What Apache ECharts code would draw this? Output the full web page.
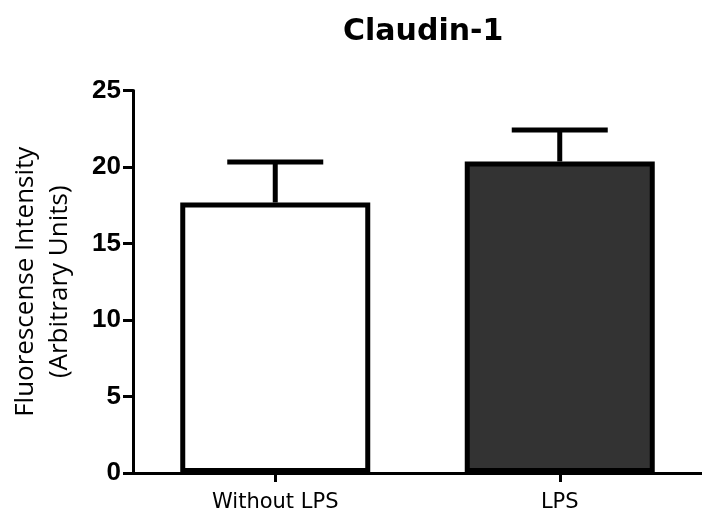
<!DOCTYPE html>
<html>
<head>
<meta charset="utf-8">
<script src="https://cdn.jsdelivr.net/npm/echarts@6/dist/echarts.min.js"></script>
<style>
html,body{margin:0;padding:0;background:#fff;}
#chart{width:702px;height:517px;}
</style>
</head>
<body>
<div id="chart"></div>
<script>
const categories = ['Without LPS', 'LPS'];
const means = [17.68, 20.36];
const upperError = [20.33, 22.42];
const barColors = ['#ffffff', '#333333'];
const yMin = 0, yMax = 25, yStep = 5;

const chart = echarts.init(document.getElementById('chart'), null, {renderer: 'canvas'});

const errData = categories.map((c, i) => [i, means[i], upperError[i]]);

chart.setOption({
  backgroundColor: '#ffffff',
  animation: false,
  title: {
    text: 'Claudin-1',
    left: 338,
    top: 12,
    textStyle: {fontFamily: 'DejaVu Sans', fontWeight: 'bold', fontSize: 30, color: '#000'}
  },
  grid: {left: 133, width: 576, top: 90.5, bottom: 44, containLabel: false},
  xAxis: {
    type: 'category',
    data: categories,
    boundaryGap: true,
    axisLine: {lineStyle: {color: '#000', width: 3}},
    axisTick: {show: true, alignWithLabel: true, length: 9, lineStyle: {color: '#000', width: 3}},
    axisLabel: {fontFamily: 'DejaVu Sans', fontSize: 21, color: '#000', margin: 19}
  },
  yAxis: {
    type: 'value',
    min: yMin, max: yMax, interval: yStep,
    name: 'Fluorescense Intensity\n(Arbitrary Units)',
    nameLocation: 'middle',
    nameGap: 56,
    nameTextStyle: {fontFamily: 'Open Sans', fontSize: 26, color: '#000', lineHeight: 34},
    splitLine: {show: false},
    axisLine: {show: true, lineStyle: {color: '#000', width: 3}},
    axisTick: {show: true, length: 10, lineStyle: {color: '#000', width: 3}},
    axisLabel: {fontFamily: 'Liberation Sans', fontWeight: 'bold', fontSize: 26, color: '#000', margin: 12}
  },
  series: [
    {
      type: 'custom',
      z: 1,
      data: errData,
      renderItem: function (params, api) {
        const x = api.value(0);
        const p0 = api.coord([x, api.value(1)]);
        const p1 = api.coord([x, api.value(2)]);
        return {
          type: 'group',
          children: [
            {type: 'line', shape: {x1: p0[0], y1: p0[1], x2: p1[0], y2: p1[1]}, style: {stroke: '#000', lineWidth: 5}},
            {type: 'line', shape: {x1: p1[0] - 48, y1: p1[1], x2: p1[0] + 48, y2: p1[1]}, style: {stroke: '#000', lineWidth: 5}}
          ]
        };
      }
    },
    {
      type: 'bar',
      z: 2,
      barWidth: 190,
      data: means.map((v, i) => ({value: v, itemStyle: {color: barColors[i]}})),
      itemStyle: {borderColor: '#000', borderWidth: 5}
    }
  ]
});
</script>
</body>
</html>
